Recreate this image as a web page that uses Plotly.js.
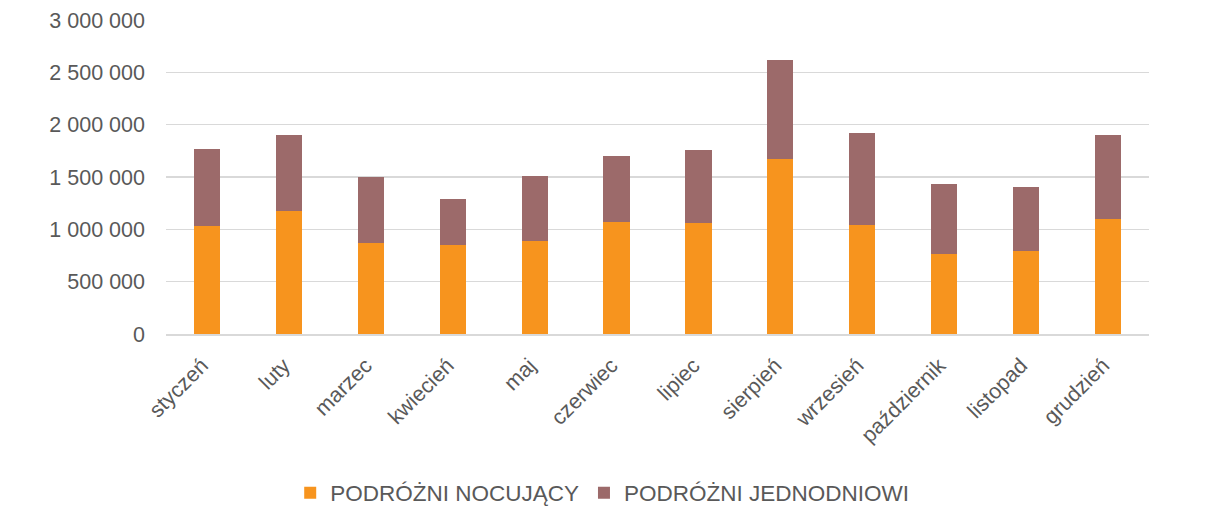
<!DOCTYPE html>
<html>
<head>
<meta charset="utf-8">
<script src="https://cdn.plot.ly/plotly-3.0.1.min.js"></script>
<style>html,body{margin:0;padding:0;background:#fff;}#chart{width:1229px;height:519px;}</style>
</head>
<body>
<div id="chart"></div>
<script>
const months = ["styczeń","luty","marzec","kwiecień","maj","czerwiec","lipiec","sierpień","wrzesień","październik","listopad","grudzień"];
const nocujacy = [1033000,1176000,868000,852000,890000,1072000,1062000,1676000,1043000,769000,795000,1103000];
const jednodniowi = [735000,729000,633000,442000,623000,632000,697000,938000,881000,668000,611000,796000];
const seriesNames = ["PODRÓŻNI NOCUJĄCY","PODRÓŻNI JEDNODNIOWI"];
const yTicks = [0,500000,1000000,1500000,2000000,2500000,3000000];

const font = {family:"Liberation Sans, Arial, sans-serif", size:21.5, color:"#595959"};
const legendFont = {family:"Liberation Sans, Arial, sans-serif", size:22.5, color:"#595959"};
const data = [
  {type:"bar", x:months, y:nocujacy, name:seriesNames[0], marker:{color:"#F7941E"}},
  {type:"bar", x:months, y:jednodniowi, name:seriesNames[1], marker:{color:"#9C6A6A"}}
];
const layout = {
  width:1229, height:519,
  barmode:"stack", bargap:0.68,
  separators:", ",
  font:font,
  paper_bgcolor:"#fff", plot_bgcolor:"#fff",
  margin:{l:166, r:80, t:20, b:185},
  xaxis:{tickangle:-45, tickfont:font, showgrid:false, showline:true, linecolor:"#d9d9d9", linewidth:1.5, ticks:"", ticklabelstandoff:9, ticklabelshift:-5},
  yaxis:{range:[0,3000000], tickvals:yTicks, tickformat:",d", tickfont:font, gridcolor:"#d9d9d9", gridwidth:1.3, zeroline:false, showline:false, ticks:"", ticklabelstandoff:20},
  legend:{orientation:"h", xref:"container", yref:"container", x:0.49, xanchor:"center", y:0.05, yanchor:"middle", font:legendFont, traceorder:"normal", itemwidth:30},
  showlegend:true
};
Plotly.newPlot("chart", data, layout, {displayModeBar:false, staticPlot:true});
</script>
</body>
</html>
